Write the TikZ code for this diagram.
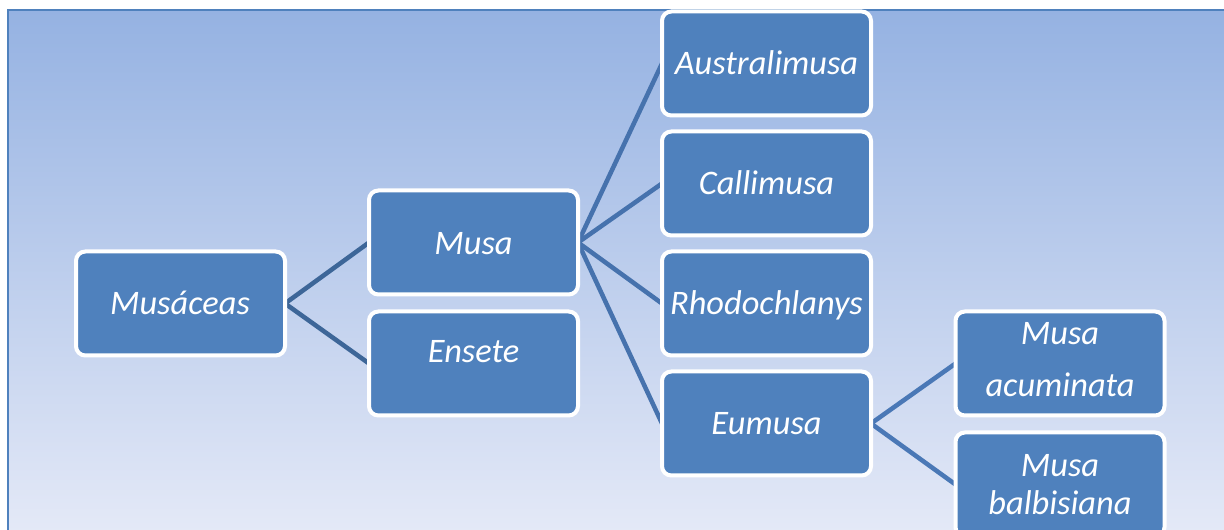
\documentclass[tikz,border=0pt]{standalone}
\usepackage{fontspec}
\setmainfont{Carlito}
\definecolor{boxblue}{HTML}{4F81BD}
\definecolor{linkA}{HTML}{3D6698}
\definecolor{linkB}{HTML}{4672AD}
\definecolor{linkC}{HTML}{4A78B6}
\definecolor{bgtop}{RGB}{149,178,226}
\definecolor{bgbot}{RGB}{228,233,247}
\definecolor{frameblue}{HTML}{4F81BD}
\pgfdeclarelayer{bg}
\pgfdeclarelayer{lines}
\pgfsetlayers{bg,lines,main}
\begin{document}
\begin{tikzpicture}[x=0.75pt,y=-0.75pt,
  box/.style={draw=white, line width=3pt, fill=boxblue, rounded corners=7pt,
    minimum width=156.75pt, minimum height=78pt, inner sep=0pt, outer sep=0pt},
  lbl/.style={text=white, font=\fontsize{25.8}{30}\selectfont\itshape, inner sep=0pt, anchor=base},
  link/.style={line width=3.4pt}]
\useasboundingbox (0,0) rectangle (1224,530);
\clip (0,0) rectangle (1224,530);
\begin{pgfonlayer}{bg}
  \fill[white] (0,0) rectangle (1224,530);
  \shade[top color=bgtop, bottom color=bgbot] (8,10) rectangle (1226,532);
  \draw[frameblue, line width=1.8pt] (8,535) -- (8,10) -- (1230,10);
\end{pgfonlayer}

% boxes
\node[box] (musaceas) at (180.5,303.5) {};
\node[box] (musa) at (473.5,242.5) {};
\node[box] (ensete) at (473.5,363.5) {};
\node[box] (austr) at (766.5,63.5) {};
\node[box] (calli) at (766.5,183.5) {};
\node[box] (rhodo) at (766.5,303.5) {};
\node[box] (eumusa) at (766.5,423.5) {};
\node[box] (acum) at (1060,363.5) {};
\node[box] (balb) at (1060,484.5) {};

% labels
\node[lbl] (t-musaceas) at (180,314.5) {Musáceas};
\node[lbl] (t-musa) at (473.5,254.5) {Musa};
\node[lbl] (t-ensete) at (473.5,362.5) {Ensete};
\node[lbl] (t-austr) at (766.5,74.5) {Australimusa};
\node[lbl] (t-calli) at (766.5,194.5) {Callimusa};
\node[lbl] (t-rhodo) at (766.5,314.5) {Rhodochlanys};
\node[lbl] (t-eumusa) at (766.5,434.5) {Eumusa};
\node[lbl] (t-acum1) at (1060,344.5) {Musa};
\node[lbl] (t-acum2) at (1060,396.5) {acuminata};
\node[lbl] (t-balb1) at (1060,476.5) {Musa};
\node[lbl] (t-balb2) at (1060,514.5) {balbisiana};

% connectors
\begin{pgfonlayer}{lines}
  \draw[link, linkA] (musaceas.east) -- (musa.west);
  \draw[link, linkA] (musaceas.east) -- (ensete.west);
  \draw[link, linkB] (musa.east) -- (austr.west);
  \draw[link, linkB] (musa.east) -- (calli.west);
  \draw[link, linkB] (musa.east) -- (rhodo.west);
  \draw[link, linkB] (musa.east) -- (eumusa.west);
  \draw[link, linkC] (eumusa.east) -- (acum.west);
  \draw[link, linkC] (eumusa.east) -- (balb.west);
\end{pgfonlayer}
\end{tikzpicture}
\end{document}
